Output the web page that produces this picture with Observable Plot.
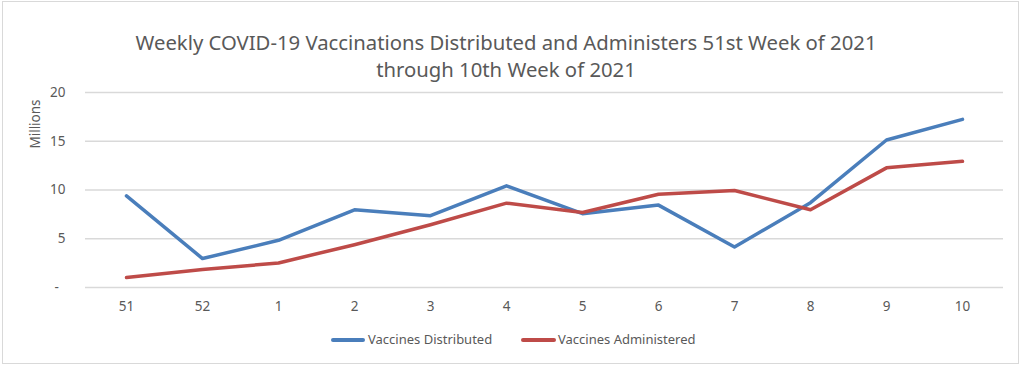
<!DOCTYPE html>
<html>
<head>
<meta charset="utf-8">
<script src="https://cdn.jsdelivr.net/npm/d3@7"></script>
<script src="https://cdn.jsdelivr.net/npm/@observablehq/plot@0.6"></script>
<style>
  html, body { margin: 0; padding: 0; background: #fff; }
  #wrap { position: relative; width: 1024px; height: 367px; overflow: hidden; font-family: "Noto Sans", sans-serif; color: #595959; }
  #border { position: absolute; left: 2px; top: 1px; width: 1015px; height: 361px; border: 1.5px solid #d9d9d9; box-sizing: content-box; }
  .title { position: absolute; left: 0; width: 1012px; text-align: center; font-size: 20.3px; white-space: nowrap; line-height: 1; }
  #chart { position: absolute; left: 0; top: 0; }
  #legend { position: absolute; top: 330px; left: 0; width: 1024px; height: 18px; font-size: 13px; }
  .sw { position: absolute; top: 8px; height: 3.5px; border-radius: 2px; }
  .lt { position: absolute; top: 0; white-space: nowrap; line-height: 18px; }
  #ylab { position: absolute; left: 35px; top: 124px; transform: translate(-50%, -50%) rotate(-90deg); font-size: 13.5px; white-space: nowrap; }
</style>
</head>
<body>
<div id="wrap">
  <div id="border"></div>
  <div id="chart"></div>
  <div class="title" id="t1" style="top:32px"></div>
  <div class="title" id="t2" style="top:59px"></div>
  <div id="ylab"></div>
  <div id="legend"></div>
</div>
<script>
const titleLines = ["Weekly COVID-19 Vaccinations Distributed and Administers 51st Week of 2021", "through 10th Week of 2021"];
const yLabel = "Millions";
const weeks = ["51", "52", "1", "2", "3", "4", "5", "6", "7", "8", "9", "10"];
const distributed = [9.4, 2.97, 4.84, 7.97, 7.36, 10.43, 7.57, 8.45, 4.15, 8.7, 15.13, 17.24];
const administered = [1.02, 1.84, 2.52, 4.39, 6.44, 8.65, 7.7, 9.57, 9.95, 7.97, 12.27, 12.94];
const seriesNames = ["Vaccines Distributed", "Vaccines Administered"];
const seriesColors = ["#4a7ebb", "#be4b48"];
const yTicks = [0, 5, 10, 15, 20];

document.getElementById("t1").textContent = titleLines[0];
document.getElementById("t2").textContent = titleLines[1];
document.getElementById("ylab").textContent = yLabel;

const rows = [];
weeks.forEach((w, i) => {
  rows.push({week: w, value: distributed[i], series: seriesNames[0]});
  rows.push({week: w, value: administered[i], series: seriesNames[1]});
});

const chart = Plot.plot({
  width: 1024,
  height: 367,
  marginTop: 92,
  marginBottom: 80,
  marginLeft: 85,
  marginRight: 21,
  style: {fontFamily: "Noto Sans, sans-serif", fontSize: "13.5px", color: "#595959", background: "transparent"},
  x: {type: "point", domain: weeks, padding: 0.5, label: null, tickSize: 0, tickPadding: 14},
  y: {domain: [0, 20], ticks: yTicks, label: null, tickSize: 0, tickPadding: 20,
      tickFormat: d => d === 0 ? "-\u2002" : String(d)},
  color: {domain: seriesNames, range: seriesColors},
  marks: [
    Plot.gridY(yTicks, {stroke: "#d9d9d9", strokeOpacity: 1, strokeWidth: 1.5}),
    Plot.line(rows, {x: "week", y: "value", z: "series", stroke: "series", strokeWidth: 3.5, strokeLinejoin: "round", strokeLinecap: "round"})
  ]
});
document.getElementById("chart").appendChild(chart);

const legend = document.getElementById("legend");
const swatchX = [331, 521];
const swatchW = [34, 35];
const textX = [368, 558];
seriesNames.forEach((name, i) => {
  const s = document.createElement("div");
  s.className = "sw";
  s.style.left = swatchX[i] + "px";
  s.style.width = swatchW[i] + "px";
  s.style.background = seriesColors[i];
  legend.appendChild(s);
  const t = document.createElement("div");
  t.className = "lt";
  t.style.left = textX[i] + "px";
  t.textContent = name;
  legend.appendChild(t);
});
</script>
</body>
</html>
